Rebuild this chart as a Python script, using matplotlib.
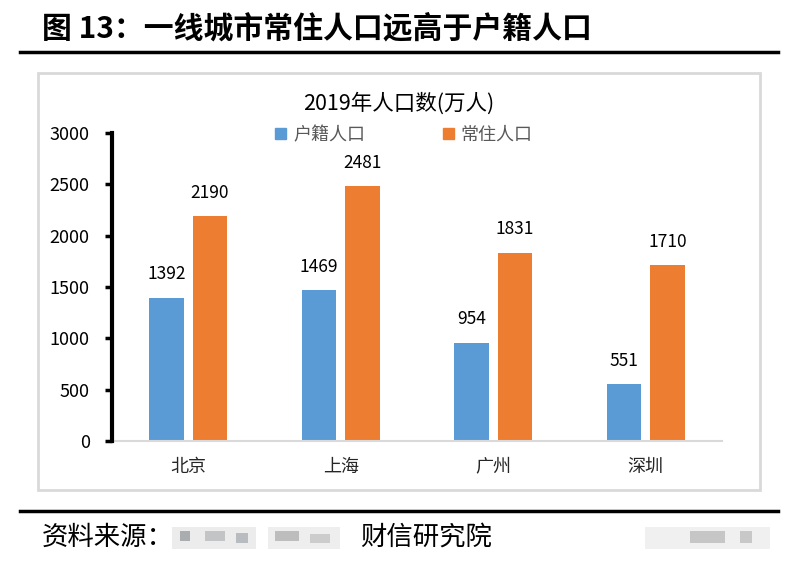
import matplotlib

matplotlib.use("Agg")
import matplotlib.pyplot as plt
import numpy as np
from matplotlib.lines import Line2D
from matplotlib.patches import Rectangle

plt.rcParams["font.family"] = ["Noto Sans CJK SC", "DejaVu Sans"]

# --- data ---
cities = ["北京", "上海", "广州", "深圳"]
hukou = [1392, 1469, 954, 551]
changzhu = [2190, 2481, 1831, 1710]
series_names = ["户籍人口", "常住人口"]
yticks = [0, 500, 1000, 1500, 2000, 2500, 3000]

BLUE = "#5b9bd5"
ORANGE = "#ed7d31"

W, H = 792, 568
fig = plt.figure(figsize=(W / 100, H / 100), dpi=100)


def fx(px):
    return px / W


def fy(py):
    return 1 - py / H


def blur(x, y, w, h, c):
    # stand-in for the pixelated watermark patches
    fig.add_artist(Rectangle((fx(x), fy(y + h)), w / W, h / H,
                             transform=fig.transFigure, color=c, lw=0))


# header
fig.text(fx(42), fy(28), "图 13：一线城市常住人口远高于户籍人口",
         fontsize=21.5, fontweight="bold", ha="left", va="center")
fig.add_artist(Line2D([fx(20), fx(778)], [fy(52), fy(52)],
                      transform=fig.transFigure, color="black", lw=2.5))

# chart frame
fig.add_artist(Rectangle((fx(38), fy(490)), fx(760) - fx(38), fy(73) - fy(490),
                         transform=fig.transFigure, fill=False,
                         edgecolor="#d9d9d9", lw=2))

ax = fig.add_axes([fx(112), fy(441), fx(722) - fx(112), fy(133) - fy(441)])
x = np.arange(len(cities))
bw = 0.225
ax.bar(x - 0.142, hukou, bw, color=BLUE, zorder=2)
ax.bar(x + 0.142, changzhu, bw, color=ORANGE, zorder=2)

for xi, v in zip(x - 0.142, hukou):
    ax.annotate(f"{v}", (xi, v), xytext=(0, 17), textcoords="offset points",
                ha="center", va="center", fontsize=12.5)
for xi, v in zip(x + 0.142, changzhu):
    ax.annotate(f"{v}", (xi, v), xytext=(0, 17), textcoords="offset points",
                ha="center", va="center", fontsize=12.5)

ax.set_xlim(-0.5, len(cities) - 0.5)
ax.set_ylim(0, 3000)
ax.set_yticks(yticks)
ax.set_xticks(x)
ax.set_xticklabels(cities)
for s in ["top", "right"]:
    ax.spines[s].set_visible(False)
ax.spines["left"].set_linewidth(3)
ax.spines["left"].set_color("black")
ax.spines["bottom"].set_linewidth(1.5)
ax.spines["bottom"].set_color("#d9d9d9")
ax.spines["left"].set_zorder(3)
ax.tick_params(axis="y", direction="out", length=5, width=2.5, pad=11,
               labelsize=13)
ax.tick_params(axis="x", length=0, pad=12, labelsize=13, labelcolor="#262626")

fig.text(fx(399), fy(104), "2019年人口数(万人)", ha="center", va="center",
         fontsize=15.5)
handles = [Rectangle((0, 0), 1, 1, color=BLUE), Rectangle((0, 0), 1, 1, color=ORANGE)]
fig.legend(handles, series_names, loc="center", bbox_to_anchor=(fx(404), fy(135)),
           ncol=2, frameon=False, fontsize=13, handlelength=0.6, handleheight=0.6,
           handletextpad=0.4, columnspacing=4.3, labelcolor="#595959",
           borderpad=0, borderaxespad=0)

# footer
fig.add_artist(Line2D([fx(20), fx(778)], [fy(511), fy(511)],
                      transform=fig.transFigure, color="black", lw=2.5))
fig.text(fx(42), fy(537), "资料来源：", fontsize=19, ha="left", va="center")
fig.text(fx(360), fy(537), "财信研究院", fontsize=19, ha="left", va="center")

blur(172, 527, 84, 22, "#ececec")
blur(180, 531, 10, 10, "#a9adb0")
blur(205, 531, 20, 10, "#c2c4c6")
blur(236, 533, 12, 10, "#b8bcc0")
blur(268, 527, 72, 22, "#eeeeee")
blur(275, 531, 24, 10, "#bdbdbd")
blur(310, 534, 20, 9, "#cccccc")
blur(645, 527, 125, 22, "#f0f0f0")
blur(690, 531, 35, 12, "#c6c6c6")
blur(740, 531, 12, 12, "#c8c8c8")

fig.savefig("out.png", dpi=100)
